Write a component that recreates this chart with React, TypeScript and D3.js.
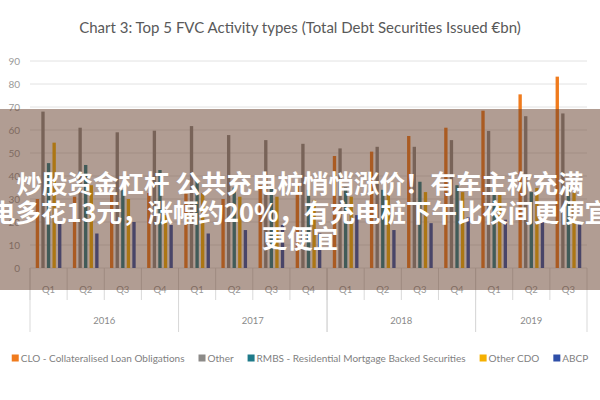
import React from "react";
import * as d3 from "d3";

const years = ["2016", "2017", "2018", "2019"];
const quarters = [
  "2016-Q1", "2016-Q2", "2016-Q3", "2016-Q4",
  "2017-Q1", "2017-Q2", "2017-Q3", "2017-Q4",
  "2018-Q1", "2018-Q2", "2018-Q3", "2018-Q4",
  "2019-Q1", "2019-Q2", "2019-Q3",
];

const seriesNames = [
  "CLO - Collateralised Loan Obligations",
  "Other",
  "RMBS - Residential Mortgage Backed Securities",
  "Other CDO",
  "ABCP",
];
const seriesColors = ["#F07B1D", "#8C8A88", "#1E7A89", "#F5B000", "#2E4FA8"];

const clo = [30, 31, 32, 32.6, 32.7, 30, 36, 37, 48.7, 50.6, 57.4, 61, 68.4, 75.5, 83.2];
const other = [68, 61, 59, 59.7, 61.7, 57.8, 55.6, 54, 52, 52.7, 52.7, 55.6, 59.6, 66, 67.2];
const rmbs = [45.6, 44.8, 34, 42.6, 38, 35, 35, 34, 35, 34, 37.5, 36, 35, 33, 35];
const otherCdo = [54.5, 36, 30, 23, 32.6, 31, 31, 29.6, 31, 31.7, 33, 33, 32.6, 34.8, 32.7];
const abcp = [20, 15, 20, 18.7, 15, 16.5, 18.7, 15, 23, 16.5, 19.5, 22, 21, 21, 20];

const yTicks = [0, 10, 20, 30, 40, 50, 60, 70, 80, 90];

const title = "Chart 3: Top 5 FVC Activity types (Total Debt Securities Issued €bn)";
const bannerLines = [
  "炒股资金杠杆 公共充电桩悄悄涨价！有车主称充满",
  "电多花13元，涨幅约20%，有充电桩下午比夜间更便宜",
  "更便宜",
];

const W = 600;
const H = 400;
const left = 30;
const right = 587;
const font = "Lato, 'Open Sans', sans-serif";

function Legend() {
  const ref = React.useRef<SVGGElement>(null);
  React.useEffect(() => {
    const g = d3.select(ref.current);
    g.selectAll("*").remove();
    let x = 0;
    const items = g
      .selectAll("g.item")
      .data(seriesNames)
      .join("g")
      .attr("class", "item");
    items.each(function (d, i) {
      const item = d3.select(this);
      item
        .append("rect")
        .attr("x", 0)
        .attr("y", -3.5)
        .attr("width", 7)
        .attr("height", 7)
        .attr("fill", seriesColors[i]);
      const t = item
        .append("text")
        .attr("x", 9)
        .attr("y", 3.5)
        .attr("font-size", 10)
        .attr("font-family", font)
        .attr("fill", "#7f7f7f")
        .text(d);
      const w = (t.node() as SVGTextElement).getComputedTextLength();
      item.attr("transform", `translate(${x},0)`);
      x += 9 + w + 14;
    });
    const total = x - 14;
    g.attr("transform", `translate(${(W - total) / 2},358)`);
  }, []);
  return <g ref={ref} />;
}

export default function App() {
  const series = [clo, other, rmbs, otherCdo, abcp];

  const y = d3.scaleLinear().domain([0, 90]).range([268, 61]);
  const x0 = d3.scaleBand().domain(quarters).range([left, right]).padding(0);
  const x1 = d3
    .scaleBand()
    .domain(seriesNames)
    .range([3.5, x0.bandwidth() - 3.5])
    .padding(0.4);

  const yearStart = (yr: string) => x0(quarters.find(q => q.startsWith(yr))!)!;
  const yearEnd = (yr: string) => {
    const qs = quarters.filter(q => q.startsWith(yr));
    return x0(qs[qs.length - 1])! + x0.bandwidth();
  };

  return (
    <svg
      width={W}
      height={H}
      style={{ position: "absolute", left: 0, top: 0, background: "#fff" }}
    >
      <text
        x={W / 2}
        y={33}
        textAnchor="middle"
        fontFamily={font}
        fontSize={15}
        fill="#595959"
      >
        {title}
      </text>

      {/* gridlines + y labels */}
      {yTicks.map(t => (
        <g key={t}>
          <line x1={left} x2={right} y1={y(t)} y2={y(t)} stroke="#e2e2e2" strokeWidth={1} />
          <text
            x={20}
            y={y(t) + 3.5}
            textAnchor="end"
            fontFamily={font}
            fontSize={10}
            fill="#9a9a9a"
          >
            {t}
          </text>
        </g>
      ))}

      {/* bars */}
      {series.map((vals, si) =>
        vals.map((v, qi) => (
          <rect
            key={`${si}-${qi}`}
            x={x0(quarters[qi])! + x1(seriesNames[si])!}
            y={y(v)}
            width={x1.bandwidth()}
            height={y(0) - y(v)}
            fill={seriesColors[si]}
          />
        ))
      )}

      {/* quarter separators and labels */}
      {quarters.map(q => (
        <g key={q}>
          <line
            x1={x0(q)!}
            x2={x0(q)!}
            y1={y(0)}
            y2={300}
            stroke="#d9d9d9"
          />
          <text
            x={x0(q)! + x0.bandwidth() / 2}
            y={293}
            textAnchor="middle"
            fontFamily={font}
            fontSize={9.5}
            fill="#9a9a9a"
          >
            {q.split("-")[1]}
          </text>
        </g>
      ))}

      {/* year separators and labels */}
      {years.map(yr => (
        <g key={yr}>
          <line x1={yearStart(yr)} x2={yearStart(yr)} y1={y(0)} y2={332} stroke="#d9d9d9" />
          <line x1={yearEnd(yr)} x2={yearEnd(yr)} y1={y(0)} y2={332} stroke="#d9d9d9" />
          <text
            x={(yearStart(yr) + yearEnd(yr)) / 2}
            y={324}
            textAnchor="middle"
            fontFamily={font}
            fontSize={9.5}
            fill="#8a8a8a"
          >
            {yr}
          </text>
        </g>
      ))}

      <Legend />

      {/* banner overlay */}
      <rect x={0} y={109} width={W} height={181} fill="rgb(100,60,40)" fillOpacity={0.5} />
      {bannerLines.map((line, i) => (
        <text
          key={i}
          x={W / 2}
          y={[193, 222, 248][i]}
          textAnchor="middle"
          fontFamily="'Noto Sans CJK SC', sans-serif"
          fontWeight="bold"
          fontSize={25.5}
          fill="#fff"
        >
          {line}
        </text>
      ))}
    </svg>
  );
}
